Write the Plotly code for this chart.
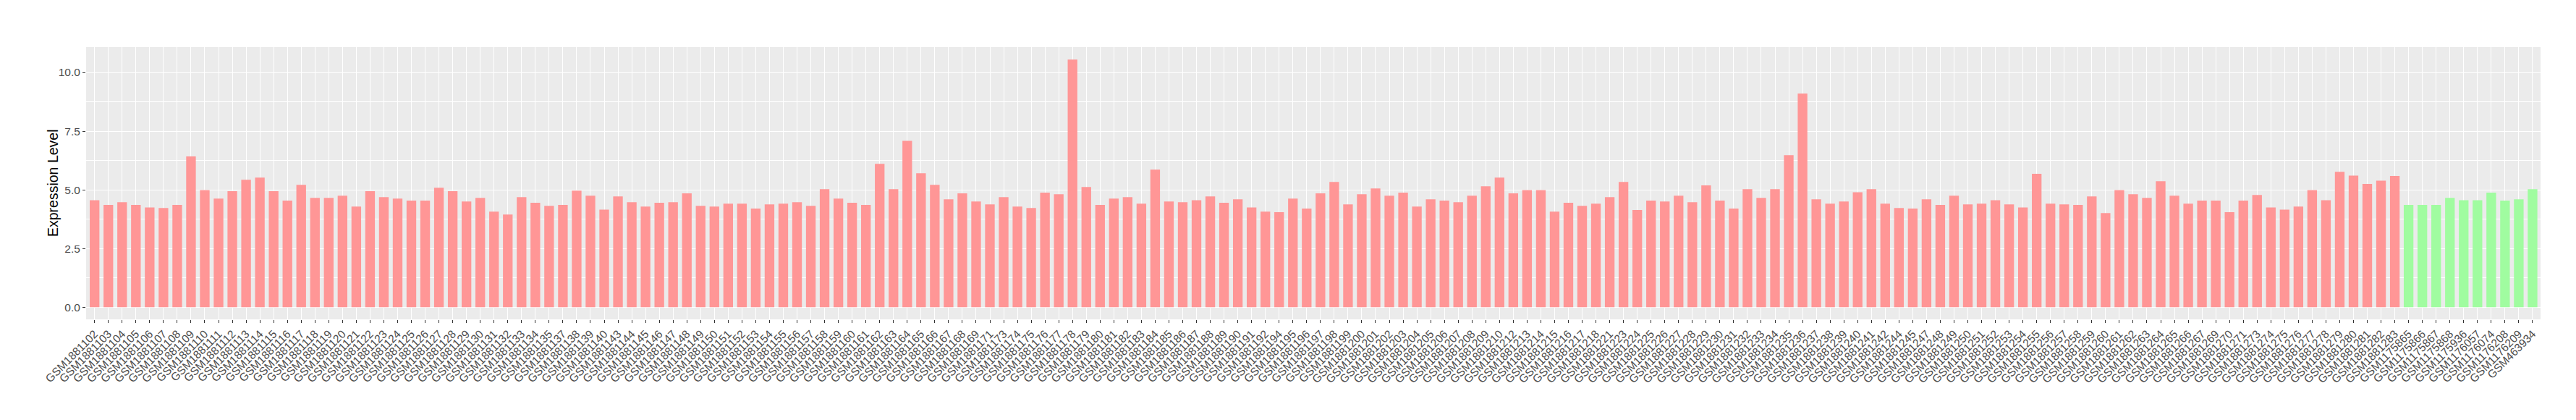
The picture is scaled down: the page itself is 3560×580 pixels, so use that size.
import plotly.graph_objects as go

red_samples = [
    "GSM1881102", "GSM1881103", "GSM1881104", "GSM1881105", "GSM1881106", "GSM1881107",
    "GSM1881108", "GSM1881109", "GSM1881110", "GSM1881111", "GSM1881112", "GSM1881113",
    "GSM1881114", "GSM1881115", "GSM1881116", "GSM1881117", "GSM1881118", "GSM1881119",
    "GSM1881120", "GSM1881121", "GSM1881122", "GSM1881123", "GSM1881124", "GSM1881125",
    "GSM1881126", "GSM1881127", "GSM1881128", "GSM1881129", "GSM1881130", "GSM1881131",
    "GSM1881132", "GSM1881133", "GSM1881134", "GSM1881135", "GSM1881137", "GSM1881138",
    "GSM1881139", "GSM1881140", "GSM1881143", "GSM1881144", "GSM1881145", "GSM1881146",
    "GSM1881147", "GSM1881148", "GSM1881149", "GSM1881150", "GSM1881151", "GSM1881152",
    "GSM1881153", "GSM1881154", "GSM1881155", "GSM1881156", "GSM1881157", "GSM1881158",
    "GSM1881159", "GSM1881160", "GSM1881161", "GSM1881162", "GSM1881163", "GSM1881164",
    "GSM1881165", "GSM1881166", "GSM1881167", "GSM1881168", "GSM1881169", "GSM1881171",
    "GSM1881173", "GSM1881174", "GSM1881175", "GSM1881176", "GSM1881177", "GSM1881178",
    "GSM1881179", "GSM1881180", "GSM1881181", "GSM1881182", "GSM1881183", "GSM1881184",
    "GSM1881185", "GSM1881186", "GSM1881187", "GSM1881188", "GSM1881189", "GSM1881190",
    "GSM1881191", "GSM1881192", "GSM1881194", "GSM1881195", "GSM1881196", "GSM1881197",
    "GSM1881198", "GSM1881199", "GSM1881200", "GSM1881201", "GSM1881202", "GSM1881203",
    "GSM1881204", "GSM1881205", "GSM1881206", "GSM1881207", "GSM1881208", "GSM1881209",
    "GSM1881210", "GSM1881212", "GSM1881213", "GSM1881214", "GSM1881215", "GSM1881216",
    "GSM1881217", "GSM1881218", "GSM1881221", "GSM1881223", "GSM1881224", "GSM1881225",
    "GSM1881226", "GSM1881227", "GSM1881228", "GSM1881229", "GSM1881230", "GSM1881231",
    "GSM1881232", "GSM1881233", "GSM1881234", "GSM1881235", "GSM1881236", "GSM1881237",
    "GSM1881238", "GSM1881239", "GSM1881240", "GSM1881241", "GSM1881242", "GSM1881244",
    "GSM1881245", "GSM1881247", "GSM1881248", "GSM1881249", "GSM1881250", "GSM1881251",
    "GSM1881252", "GSM1881253", "GSM1881254", "GSM1881255", "GSM1881256", "GSM1881257",
    "GSM1881258", "GSM1881259", "GSM1881260", "GSM1881261", "GSM1881262", "GSM1881263",
    "GSM1881264", "GSM1881265", "GSM1881266", "GSM1881267", "GSM1881269", "GSM1881270",
    "GSM1881271", "GSM1881273", "GSM1881274", "GSM1881275", "GSM1881276", "GSM1881277",
    "GSM1881278", "GSM1881279", "GSM1881280", "GSM1881281", "GSM1881282", "GSM1881283",
]
red_values = [
    4.56, 4.36, 4.47, 4.36, 4.25, 4.23,
    4.36, 6.42, 4.99, 4.63, 4.94, 5.43,
    5.52, 4.94, 4.54, 5.21, 4.66, 4.66,
    4.75, 4.29, 4.94, 4.69, 4.63, 4.54,
    4.54, 5.09, 4.94, 4.50, 4.66, 4.07,
    3.95, 4.69, 4.45, 4.32, 4.36, 4.97,
    4.75, 4.16, 4.72, 4.47, 4.29, 4.45,
    4.47, 4.85, 4.32, 4.29, 4.41, 4.41,
    4.20, 4.38, 4.41, 4.47, 4.32, 5.03,
    4.63, 4.45, 4.36, 6.11, 5.03, 7.09,
    5.71, 5.21, 4.60, 4.85, 4.50, 4.38,
    4.69, 4.29, 4.23, 4.88, 4.81, 10.55,
    5.12, 4.36, 4.63, 4.69, 4.41, 5.86,
    4.50, 4.47, 4.56, 4.72, 4.45, 4.60,
    4.25, 4.07, 4.05, 4.63, 4.20, 4.85,
    5.34, 4.38, 4.81, 5.06, 4.75, 4.88,
    4.29, 4.60, 4.54, 4.47, 4.75, 5.15,
    5.52, 4.85, 4.99, 4.99, 4.07, 4.45,
    4.32, 4.41, 4.69, 5.34, 4.14, 4.54,
    4.50, 4.75, 4.47, 5.19, 4.54, 4.20,
    5.03, 4.66, 5.03, 6.48, 9.10, 4.60,
    4.41, 4.50, 4.90, 5.03, 4.41, 4.23,
    4.20, 4.60, 4.36, 4.75, 4.38, 4.41,
    4.56, 4.38, 4.25, 5.68, 4.41, 4.38,
    4.36, 4.72, 4.01, 4.99, 4.81, 4.66,
    5.37, 4.75, 4.41, 4.54, 4.54, 4.05,
    4.54, 4.78, 4.25, 4.16, 4.29, 4.99,
    4.56, 5.77, 5.61, 5.25, 5.39, 5.59,
]

green_samples = [
    "GSM1175865", "GSM1175866", "GSM1175867", "GSM1175868", "GSM1175936",
    "GSM1176057", "GSM1176074", "GSM1176208", "GSM1176209", "GSM463934",
]
green_values = [4.36, 4.36, 4.36, 4.66, 4.56, 4.56, 4.88, 4.54, 4.60, 5.03]

y_tick_vals = [0, 2.5, 5, 7.5, 10]
y_tick_text = ["0.0", "2.5", "5.0", "7.5", "10.0"]
y_minor_vals = [1.25, 3.75, 6.25, 8.75]

red_color = "rgb(255,150,150)"
green_color = "rgb(160,252,160)"

all_samples = red_samples + green_samples

fig = go.Figure()
fig.add_trace(go.Bar(x=red_samples, y=red_values, marker=dict(color=red_color, line=dict(width=0)),
                     width=0.7, showlegend=False))
fig.add_trace(go.Bar(x=green_samples, y=green_values, marker=dict(color=green_color, line=dict(width=0)),
                     width=0.7, showlegend=False))

L, R, T, B = 111, 57, 57, 147
plot_w = 3560 - L - R

fig.update_layout(
    width=3560, height=580,
    margin=dict(l=L, r=R, t=T, b=B, autoexpand=False),
    paper_bgcolor="white",
    plot_bgcolor="#EBEBEB",
    font=dict(family="Liberation Sans, Arial, sans-serif", color="#4D4D4D"),
    barmode="overlay",
    annotations=[dict(
        text="Expression Level", textangle=-90,
        xref="paper", yref="paper", x=(65 - L) / plot_w, y=0.5,
        xanchor="center", yanchor="middle", showarrow=False,
        font=dict(size=19.5, color="black", family="Liberation Sans, Arial, sans-serif"),
    )],
)
fig.update_xaxes(
    type="category",
    categoryorder="array", categoryarray=all_samples,
    tickmode="array", tickvals=all_samples, ticktext=all_samples,
    range=[-0.615, 177.58],
    tickangle=-45,
    tickfont=dict(size=15.5, color="#4D4D4D"),
    ticks="outside", ticklen=4, tickcolor="#333333", tickwidth=1,
    showgrid=True, gridcolor="white", gridwidth=1.4,
    zeroline=False, showline=False,
    automargin=False,
)
fig.update_yaxes(
    range=[-0.515, 11.08],
    tickmode="array", tickvals=y_tick_vals, ticktext=y_tick_text,
    tickfont=dict(size=15.5, color="#4D4D4D"),
    ticks="outside", ticklen=4, tickcolor="#333333", tickwidth=1,
    showgrid=True, gridcolor="white", gridwidth=1.4,
    minor=dict(tickmode="array", tickvals=y_minor_vals, showgrid=True,
               gridcolor="white", gridwidth=0.6, ticks=""),
    zeroline=False, showline=False,
    automargin=False,
)

fig.write_html("out.html")
